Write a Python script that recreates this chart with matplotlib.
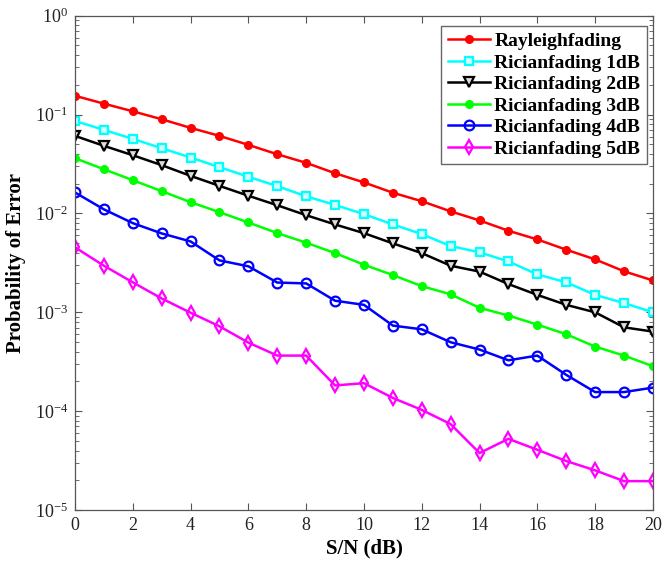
import numpy as np
import matplotlib
matplotlib.use("Agg")
import matplotlib.pyplot as plt

plt.rcParams['font.family'] = ['Liberation Serif', 'DejaVu Serif']
plt.rcParams['mathtext.fontset'] = 'custom'
plt.rcParams['mathtext.rm'] = 'Liberation Serif'
plt.rcParams['mathtext.it'] = 'Liberation Serif:italic'
plt.rcParams['mathtext.bf'] = 'Liberation Serif:bold'

snr = np.arange(0, 21)

# values
rayleigh = [0.155, 0.129, 0.108, 0.0897, 0.0734, 0.0609, 0.0494, 0.0397, 0.0325, 0.0255,
            0.0206, 0.0162, 0.0133, 0.0105, 0.0085, 0.00668, 0.00546, 0.0043, 0.00343, 0.0026, 0.0021]
rician1 = [0.0863, 0.070, 0.0568, 0.0457, 0.0368, 0.0294, 0.0235, 0.0189, 0.0149, 0.0122,
           0.00984, 0.00774, 0.00618, 0.00468, 0.00404, 0.00327, 0.00242, 0.00201, 0.0015, 0.00124, 0.001]
rician2 = [0.0609, 0.0483, 0.0388, 0.0308, 0.024, 0.019, 0.0151, 0.0121, 0.0096, 0.00774,
           0.00632, 0.00498, 0.00397, 0.00296, 0.00258, 0.00193, 0.0015, 0.00119, 0.001, 0.000705, 0.000638]
rician3 = [0.0362, 0.028, 0.0217, 0.0168, 0.013, 0.0103, 0.0081, 0.00633, 0.00506, 0.00397,
           0.00303, 0.00238, 0.00184, 0.00152, 0.00111, 0.000927, 0.000751, 0.0006, 0.00045, 0.000365, 0.000285]
rician4 = [0.0163, 0.011, 0.00798, 0.00628, 0.00521, 0.00335, 0.00292, 0.002, 0.00196, 0.00131,
           0.00119, 0.000734, 0.000673, 0.000498, 0.00042, 0.000327, 0.000365, 0.000233, 0.000156, 0.000156, 0.000173]
rician5 = [0.00454, 0.00296, 0.00201, 0.00138, 0.00099, 0.000722, 0.000494, 0.000365, 0.000365, 0.000182,
           0.000192, 0.000136, 0.000103, 0.000074, 0.0000377, 0.0000525, 0.0000407, 0.0000313, 0.0000252, 0.0000196, 0.0000196]

labels = ['Rayleighfading', 'Ricianfading 1dB', 'Ricianfading 2dB',
          'Ricianfading 3dB', 'Ricianfading 4dB', 'Ricianfading 5dB']

fig = plt.figure(figsize=(6.65, 5.64), dpi=100)
ax = fig.add_axes([0.1128, 0.0957, 0.869, 0.8764])

lw = 1.8
mew = 1.6
ax.semilogy(snr, rayleigh, '-o', color='#ff0000', lw=lw, ms=5.5, label=labels[0])
ax.semilogy(snr, rician1, '-s', color='#00ffff', lw=lw, ms=6, mew=mew, mfc='#ccffff', label=labels[1])
ax.semilogy(snr, rician2, '-v', color='#000000', lw=lw, ms=7.5, mew=mew, mfc='#dddddd', label=labels[2])
ax.semilogy(snr, rician3, '-o', color='#00ff00', lw=lw, ms=5.5, label=labels[3])
ax.semilogy(snr, rician4, '-o', color='#0000ff', lw=lw, ms=7, mew=mew, mfc='none', label=labels[4])
ax.semilogy(snr, rician5, '-d', color='#ff00ff', lw=lw, ms=7.5, mew=mew, mfc='none', label=labels[5])

ax.set_xlim(0, 20)
ax.set_ylim(1e-5, 1)
ax.set_xticks(np.arange(0, 21, 2))
ax.tick_params(which='both', direction='in', top=True, right=True,
               labelsize=13, color='#555555', labelcolor='#222222')
ax.tick_params(which='major', length=5, pad=5)
ax.tick_params(which='minor', length=3)
for s in ax.spines.values():
    s.set_color('#555555')
    s.set_linewidth(0.9)

ax.set_xlabel('S/N (dB)', fontsize=15, fontweight='bold', labelpad=3)
ax.set_ylabel('Probability of Error', fontsize=15, fontweight='bold', labelpad=6)

leg = ax.legend(loc='upper right', bbox_to_anchor=(0.99, 0.98), borderaxespad=0,
                fancybox=False, framealpha=1, edgecolor='#666666',
                prop={'weight': 'bold', 'size': 14}, handlelength=2.2,
                handletextpad=0.2, labelspacing=0.2, borderpad=0.35)
leg.get_frame().set_linewidth(1.0)

fig.savefig('out.png', dpi=100)
